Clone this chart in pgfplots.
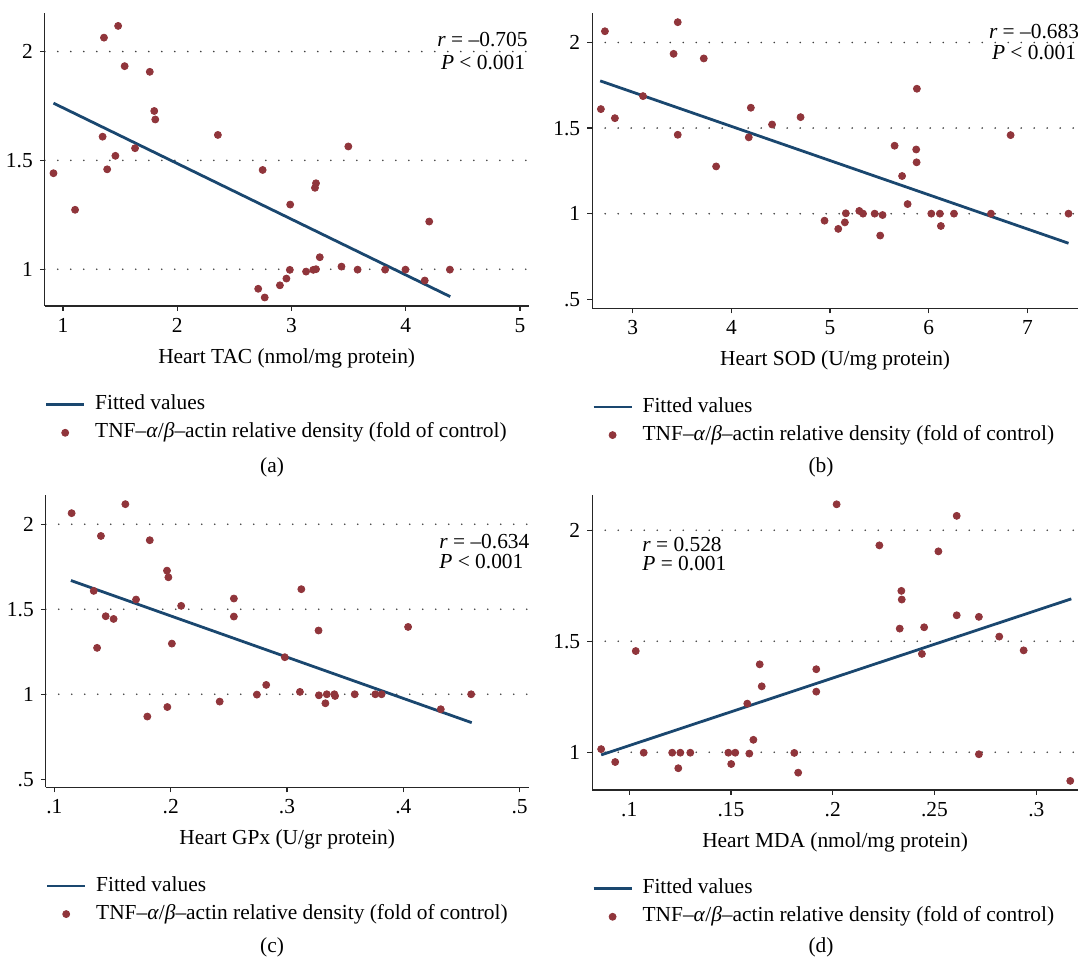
\documentclass[border=0pt]{standalone}
\usepackage{fontspec}
\setmainfont{Liberation Serif}
\usepackage{pgfplots}
\pgfplotsset{compat=1.18}
\definecolor{stnavy}{RGB}{26,71,111}
\definecolor{stmaroon}{RGB}{144,53,59}
\newcommand{\fs}{\fontsize{10.7}{12.5}\selectfont}
\pgfplotsset{
  stata/.style={
    scale only axis,
    axis x line*=bottom, axis y line*=left,
    axis line style={black!85, line width=0.6pt},
    tick style={black!85, line width=0.6pt},
    tick align=outside,
    major tick length=2.5pt,
    /pgf/number format/assume math mode=true,
    tick label style={font=\fs},
    label style={font=\fs},
    xlabel style={at={(axis description cs:0.5,0)}, anchor=center, yshift=-26pt},
    ymajorgrids,
    grid style={black!75, line width=0.9pt, line cap=round, dash pattern=on 0pt off 6.5pt},
    clip=false,
    legend style={draw=none, fill=none, font=\fs, at={(axis description cs:0,0)}, anchor=north west, yshift=-44.5pt,
      inner sep=0pt, outer sep=0pt, nodes={inner sep=0pt, text height=7.5pt, text depth=2.3pt}, row sep=4.2pt, column sep=4.8pt},
    legend cell align=left,
  },
  fitline/.style={stnavy, line width=1.4pt, no marks,
    legend image code/.code={\draw[stnavy, line width=1.4pt] (0pt,0pt) -- (19pt,0pt);}},
  dots/.style={only marks, mark=*, mark size=1.75pt, mark options={draw=stmaroon, fill=stmaroon},
    legend image code/.code={\path[draw=none,fill=none] (0pt,0pt) -- (19pt,0pt);
      \draw[#1] plot coordinates {(9.5pt,0pt)};}},
}
\newcommand{\legtext}{TNF–\textit{α}/\textit{β}–actin relative density (fold of control)}
\begin{document}
\begin{tikzpicture}[x=0.5pt,y=0.5pt]
\useasboundingbox (0,0) rectangle (1078,961);

% (a)
\begin{axis}[stata, at={(22.4pt,327.5pt)}, anchor=south west, width=241.9pt, height=146.35pt,
  xmin=0.84, xmax=5.075, ymin=0.831, ymax=2.176,
  xtick={1,2,3,4,5}, xticklabels={1,2,3,4,5},
  ytick={1,1.5,2}, yticklabels={1,1.5,2},
  xlabel={Heart TAC (nmol/mg protein)}]
\addplot[fitline] coordinates {(0.916,1.763) (4.389,0.874)};
\addlegendentry{Fitted values}
\addplot[dots] coordinates {
(0.916,1.441) (1.105,1.273) (1.346,1.609) (1.358,2.064) (1.386,1.459) (1.458,1.521)
(1.482,2.118) (1.539,1.933) (1.630,1.556) (1.759,1.907) (1.798,1.727) (1.807,1.688)
(2.355,1.617) (2.708,0.910) (2.747,1.456) (2.765,0.870) (2.898,0.926) (2.955,0.957)
(2.985,0.997) (2.988,1.297) (3.127,0.989) (3.190,0.997) (3.214,1.000) (3.205,1.374)
(3.214,1.395) (3.247,1.055) (3.437,1.012) (3.497,1.564) (3.578,0.998) (3.819,0.998)
(3.997,0.998) (4.166,0.948) (4.205,1.219) (4.386,0.998)};
\addlegendentry{\legtext}
\end{axis}

% (b)
\begin{axis}[stata, at={(296.1pt,326.35pt)}, anchor=south west, width=242.9pt, height=147.5pt,
  xmin=2.589, xmax=7.513, ymin=0.447, ymax=2.171,
  xtick={3,4,5,6,7}, xticklabels={3,4,5,6,7},
  ytick={1,1.5,2}, yticklabels={1,1.5,2},
  extra y ticks={0.5}, extra y tick labels={.5}, extra y tick style={grid=none},
  xlabel={Heart SOD (U/mg protein)}]
\addplot[fitline] coordinates {(2.670,1.776) (7.417,0.827)};
\addlegendentry{Fitted values}
\addplot[dots] coordinates {
(2.677,1.611) (2.718,2.066) (2.819,1.558) (3.104,1.687) (3.414,1.934) (3.456,2.119)
(3.456,1.461) (3.720,1.907) (3.845,1.276) (4.176,1.446) (4.197,1.619) (4.412,1.521)
(4.701,1.564) (4.944,0.959) (5.083,0.911) (5.150,0.949) (5.160,1.002) (5.296,1.016)
(5.334,1.000) (5.452,1.000) (5.508,0.872) (5.532,0.992) (5.654,1.397) (5.730,1.220)
(5.786,1.056) (5.873,1.375) (5.877,1.300) (5.880,1.730) (6.026,1.000) (6.113,1.000)
(6.123,0.928) (6.256,1.000) (6.631,1.000) (6.830,1.459) (7.417,1.000)};
\addlegendentry{\legtext}
\end{axis}

% (c)
\begin{axis}[stata, at={(22.9pt,86.85pt)}, anchor=south west, width=241.4pt, height=146.15pt,
  xmin=0.0926, xmax=0.5077, ymin=0.453, ymax=2.172,
  xtick={0.1,0.2,0.3,0.4,0.5}, xticklabels={.1,.2,.3,.4,.5},
  ytick={1,1.5,2}, yticklabels={1,1.5,2},
  extra y ticks={0.5}, extra y tick labels={.5}, extra y tick style={grid=none},
  xlabel={Heart GPx (U/gr protein)}]
\addplot[fitline] coordinates {(0.1142,1.669) (0.4588,0.833)};
\addlegendentry{Fitted values}
\addplot[dots] coordinates {
(0.1148,2.065) (0.1338,1.608) (0.1367,1.273) (0.1400,1.931) (0.1441,1.459) (0.1509,1.443)
(0.1610,2.118) (0.1702,1.557) (0.1799,0.869) (0.1820,1.906) (0.1968,1.727) (0.1971,0.925)
(0.1980,1.688) (0.2010,1.298) (0.2090,1.520) (0.2421,0.957) (0.2543,1.563) (0.2543,1.457)
(0.2741,0.998) (0.2821,1.055) (0.2981,1.218) (0.3111,1.014) (0.3123,1.618) (0.3271,1.375)
(0.3274,0.994) (0.3330,0.947) (0.3342,1.000) (0.3407,1.000) (0.3413,0.990) (0.3582,1.000)
(0.3759,1.000) (0.3813,1.000) (0.4041,1.396) (0.4322,0.912) (0.4583,1.000)};
\addlegendentry{\legtext}
\end{axis}

% (d)
\begin{axis}[stata, at={(296.1pt,85.5pt)}, anchor=south west, width=242.9pt, height=147.5pt,
  xmin=0.0818, xmax=0.3205, ymin=0.830, ymax=2.159,
  xtick={0.1,0.15,0.2,0.25,0.3}, xticklabels={.1,.15,.2,.25,.3},
  ytick={1,1.5,2}, yticklabels={1,1.5,2},
  xlabel={Heart MDA (nmol/mg protein)}]
\addplot[fitline] coordinates {(0.0862,0.988) (0.3172,1.691)};
\addlegendentry{Fitted values}
\addplot[dots] coordinates {
(0.0862,1.014) (0.0931,0.956) (0.1032,1.456) (0.1071,0.998) (0.1211,0.998) (0.1241,0.928)
(0.1251,0.998) (0.1300,0.998) (0.1487,0.998) (0.1501,0.947) (0.1521,0.998) (0.1580,1.219)
(0.1590,0.994) (0.1610,1.056) (0.1641,1.396) (0.1651,1.297) (0.1811,0.997) (0.1830,0.908)
(0.1919,1.374) (0.1919,1.273) (0.2019,2.117) (0.2229,1.932) (0.2329,1.557) (0.2337,1.727)
(0.2339,1.688) (0.2438,1.443) (0.2449,1.563) (0.2519,1.905) (0.2609,2.065) (0.2609,1.617)
(0.2718,0.991) (0.2718,1.610) (0.2818,1.521) (0.2938,1.459) (0.3167,0.871)};
\addlegendentry{\legtext}
\end{axis}

% statistics
\node[font=\fs, anchor=base] at (482.5,914.3) {\textit{r} = –0.705};
\node[font=\fs, anchor=base] at (483,891.5) {\textit{P} < 0.001};
\node[font=\fs, anchor=base] at (1034,922.7) {\textit{r} = –0.683};
\node[font=\fs, anchor=base] at (1034,901.7) {\textit{P} < 0.001};
\node[font=\fs, anchor=base west, inner sep=0pt] at (439,412.7) {\textit{r} = –0.634};
\node[font=\fs, anchor=base west, inner sep=0pt] at (439,392.7) {\textit{P} < 0.001};
\node[font=\fs, anchor=base west, inner sep=0pt] at (642,409.3) {\textit{r} = 0.528};
\node[font=\fs, anchor=base west, inner sep=0pt] at (642,390.3) {\textit{P} = 0.001};

% panel captions
\node[font=\fs] at (272,494) {(a)};
\node[font=\fs] at (821,494) {(b)};
\node[font=\fs] at (272,14) {(c)};
\node[font=\fs] at (821,14) {(d)};
\end{tikzpicture}
\end{document}
